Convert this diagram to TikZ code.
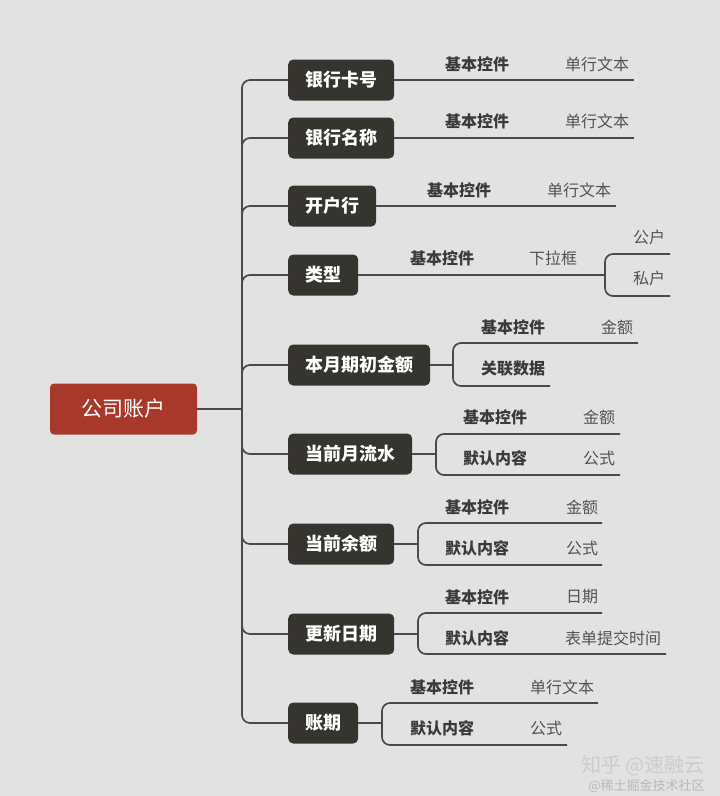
\documentclass[tikz,border=0pt]{standalone}
\usepackage{fontspec}
\setmainfont{Noto Sans CJK SC}
\usetikzlibrary{positioning}
\definecolor{bgGray}{HTML}{E2E2E2}
\definecolor{rootRed}{HTML}{A8392A}
\definecolor{boxDark}{HTML}{35342F}
\definecolor{lineGray}{HTML}{4A4A4A}
\definecolor{ctlText}{HTML}{3A3A3A}
\definecolor{valText}{HTML}{535353}

\begin{document}
\begin{tikzpicture}[x=1pt,y=-1pt,
  rootbox/.style={fill=rootRed, text=white, rounded corners=4pt, minimum width=147pt, minimum height=51pt, font=\fontsize{21pt}{24pt}\selectfont},
  topic/.style={fill=boxDark, text=white, rounded corners=5pt, minimum height=41pt, inner xsep=17pt, anchor=west, font=\fontsize{18pt}{20pt}\selectfont\bfseries},
  ctl/.style={text=ctlText, inner sep=0pt, font=\fontsize{16pt}{18pt}\selectfont\bfseries},
  val/.style={text=valText, inner sep=0pt, font=\fontsize{16pt}{18pt}\selectfont},
  link/.style={draw=lineGray, line width=1.7pt, rounded corners=8pt}]
\fill[bgGray] (0,0) rectangle (720,796);

% root and trunk
\node[rootbox] (root) at (123.5,409) {公司账户};
\coordinate (trunk) at (242,409);
\draw[link] (root.east) -- (trunk);

% first level
\node[topic] (bank)  at (288,80)  {银行卡号};
\node[topic] (name)  at (288,138) {银行名称};
\node[topic] (open)  at (288,206) {开户行};
\node[topic] (kind)  at (288,275) {类型};
\node[topic] (start) at (288,365) {本月期初金额};
\node[topic] (flow)  at (288,454) {当前月流水};
\node[topic] (rest)  at (288,544) {当前余额};
\node[topic] (date)  at (288,634) {更新日期};
\node[topic] (term)  at (288,723) {账期};
\foreach \n in {bank,name,open,kind,start,flow,rest,date,term}
  \draw[link] (trunk) |- (\n.west);

% 银行卡号
\node[ctl] (bankA) at (477,64) {基本控件};
\node[val] (bankB) at (597,64) {单行文本};
\coordinate (bankE) at (634,80);
\draw[link] (bank.east) -- (bankE);

% 银行名称
\node[ctl] (nameA) at (477,121) {基本控件};
\node[val] (nameB) at (597,121) {单行文本};
\coordinate (nameE) at (634,138);
\draw[link] (name.east) -- (nameE);

% 开户行
\node[ctl] (openA) at (459,190) {基本控件};
\node[val] (openB) at (579,190) {单行文本};
\coordinate (openE) at (616,206);
\draw[link] (open.east) -- (openE);

% 类型
\node[ctl] (kindA) at (442,258) {基本控件};
\node[val] (kindB) at (553,258) {下拉框};
\node[val] (kindC) at (649,237) {公户};
\node[val] (kindD) at (649,278) {私户};
\coordinate (kindF) at (605,275);
\coordinate (kindU) at (670,254);
\coordinate (kindL) at (670,296);
\draw[link] (kind.east) -- (kindF);
\draw[link] (kindU) -| (kindF) |- (kindL);

% 本月期初金额
\node[ctl] (startA) at (513,327) {基本控件};
\node[val] (startB) at (617,327) {金额};
\node[ctl] (startC) at (513,369) {关联数据};
\coordinate (startF) at (453,365);
\coordinate (startU) at (638,343);
\coordinate (startL) at (550,386);
\draw[link] (start.east) -- (startF);
\draw[link] (startU) -| (startF) |- (startL);

% 当前月流水
\node[ctl] (flowA) at (495,417) {基本控件};
\node[val] (flowB) at (599,417) {金额};
\node[ctl] (flowC) at (495,458) {默认内容};
\node[val] (flowD) at (599,458) {公式};
\coordinate (flowF) at (436,454);
\coordinate (flowU) at (620,434);
\coordinate (flowL) at (620,475);
\draw[link] (flow.east) -- (flowF);
\draw[link] (flowU) -| (flowF) |- (flowL);

% 当前余额
\node[ctl] (restA) at (477,507) {基本控件};
\node[val] (restB) at (582,507) {金额};
\node[ctl] (restC) at (477,548) {默认内容};
\node[val] (restD) at (582,548) {公式};
\coordinate (restF) at (418,544);
\coordinate (restU) at (602,523);
\coordinate (restL) at (602,565);
\draw[link] (rest.east) -- (restF);
\draw[link] (restU) -| (restF) |- (restL);

% 更新日期
\node[ctl] (dateA) at (477,597) {基本控件};
\node[val] (dateB) at (582,597) {日期};
\node[ctl] (dateC) at (477,638) {默认内容};
\node[val] (dateD) at (613,638) {表单提交时间};
\coordinate (dateF) at (418,634);
\coordinate (dateU) at (602,613);
\coordinate (dateL) at (666,654);
\draw[link] (date.east) -- (dateF);
\draw[link] (dateU) -| (dateF) |- (dateL);

% 账期
\node[ctl] (termA) at (442,687) {基本控件};
\node[val] (termB) at (562,687) {单行文本};
\node[ctl] (termC) at (442,728) {默认内容};
\node[val] (termD) at (546,728) {公式};
\coordinate (termF) at (382,723);
\coordinate (termU) at (598,703);
\coordinate (termL) at (567,745);
\draw[link] (term.east) -- (termF);
\draw[link] (termU) -| (termF) |- (termL);

% watermark
\node[text=black!20, inner sep=0pt, font=\fontsize{20pt}{22pt}\selectfont] (wmA) at (643,766) {知乎 @速融云};
\node[text=black!28, inner sep=0pt, font=\fontsize{13pt}{15pt}\selectfont, below=3pt of wmA.south east, anchor=north east] (wmB) {@稀土掘金技术社区};
\end{tikzpicture}
\end{document}
